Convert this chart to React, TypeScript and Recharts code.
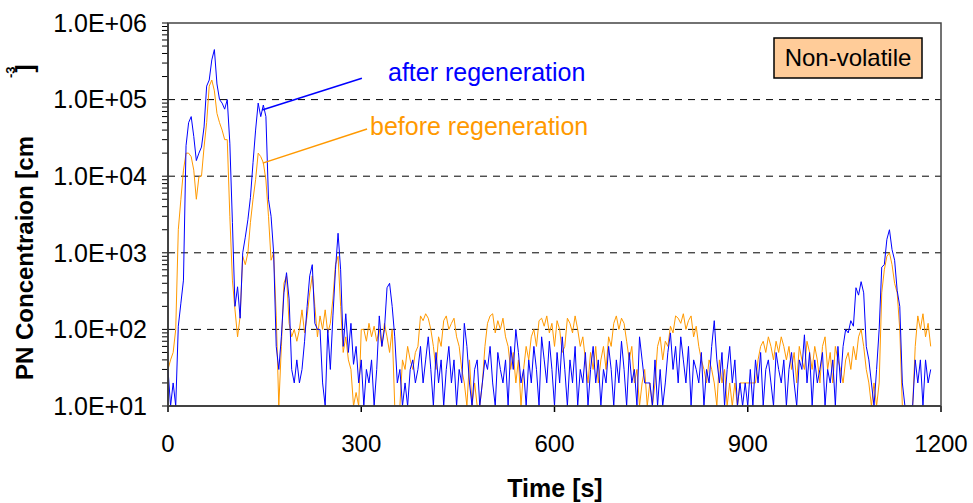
import React from 'react';
import { LineChart, Line, XAxis, YAxis, ReferenceLine } from 'recharts';

// particle number, sampled every 4 s (cm^-3); values below 10 sit on the floor
const STEP_S = 4;

const afterRegen = [
  30, 10, 20, 10, 110, 220, 440, 25000, 50000, 60000,
  33000, 16000, 20000, 24000, 44000, 150000, 180000, 330000, 450000, 160000,
  100000, 90000, 75000, 100000, 27000, 2500, 200, 360, 140, 1000,
  1600, 2700, 5300, 15000, 40000, 90000, 60000, 85000, 60000, 5000,
  3000, 1000, 60, 30, 80, 300, 550, 250, 30, 20,
  40, 20, 30, 70, 200, 500, 700, 120, 100, 100,
  20, 10, 100, 30, 150, 600, 1800, 600, 60, 160,
  50, 120, 35, 60, 20, 40, 10, 30, 20, 40,
  10, 30, 150, 60, 100, 350, 400, 200, 80, 20,
  30, 10, 20, 10, 30, 40, 20, 30, 60, 20,
  40,
  80, 30, 10, 50, 20, 40, 10, 30, 60, 20,
  40, 10, 30, 20, 120, 60, 20, 10, 30, 40,
  10, 20, 40, 30, 60, 20, 10, 50, 30, 20,
  40, 10, 60, 30, 100, 50, 20, 30, 10, 40,
  20, 60, 30, 10, 80, 40, 20, 70, 30, 10,
  50, 20, 80, 30, 10, 40, 20, 60, 10, 30,
  20, 50, 10, 30, 60, 20, 40, 10, 30, 20,
  60, 30, 10, 40, 20, 70, 30, 10, 50, 20,
  30, 10, 80, 40, 20, 20, 20, 10, 40, 10,
  30, 10, 20, 50, 90, 30, 60, 20, 80, 40,
  20, 60, 10, 40, 30, 20, 50, 10, 30, 20,
  60, 130, 40, 20, 50, 10, 30, 60, 20, 40,
  10, 20, 10, 20, 10, 30, 10, 40, 20, 50,
  10, 30, 40, 20, 10, 50, 30, 20, 40, 10,
  30, 50, 20, 10, 40, 30, 85, 20, 50, 10,
  40, 20, 30, 50, 10, 30, 20, 40, 10, 60,
  20, 60, 100, 90, 130, 110, 350, 280, 420, 300, 60, 40, 20, 10, 30,
  100, 650, 700, 1500, 2000, 1100, 800, 320, 200, 20,
  10, 10, 10, 10, 40, 20, 40, 10, 40, 20, 30,
];

const beforeRegen = [
  30, 40, 50, 100, 2000, 5000, 12000, 20000, 20000, 18000,
  12000, 5000, 9800, 10000, 24000, 50000, 150000, 180000, 130000, 66000,
  50000, 40000, 30000, 30000, 3000, 440, 180, 80, 150, 900,
  700, 1000, 2500, 5000, 9000, 20000, 18000, 15000, 8900, 3000,
  800, 1000, 150, 10, 60, 400, 500, 120, 80, 100,
  70, 100, 180, 90, 150, 300, 500, 200, 80, 150,
  100, 180, 90, 120, 250, 700, 900, 200, 50, 80,
  40, 30, 10, 15, 10, 100, 100, 70, 120, 80,
  110, 70, 100, 60, 120, 80, 50, 100, 10, 10,
  10, 40, 30, 60, 40, 30, 50, 60, 150, 130,
  160,
  140, 100, 60, 30, 80, 60, 130, 150, 100, 120,
  140, 80, 60, 30, 20, 10, 40, 10, 20, 10,
  10, 20, 60, 120, 150, 160, 90, 130, 100, 140,
  80, 60, 30, 50, 20, 40, 10, 30, 60, 40,
  80, 100, 60, 130, 140, 110, 150, 90, 120, 60,
  130, 100, 50, 60, 140, 120, 90, 150, 100, 60,
  80, 40, 20, 50, 30, 60, 20, 40, 60, 30,
  80, 60, 120, 150, 100, 140, 120, 70, 40, 60,
  20, 30, 10, 20, 30, 10, 20, 10, 20, 60,
  80, 40, 70, 60, 110, 90, 150, 140, 120, 160,
  100, 130, 150, 80, 110, 60, 40, 30, 20, 40,
  30, 20, 10, 40, 20, 30, 10, 20, 10, 20,
  10, 20, 20, 20, 20, 20, 20, 20, 40, 60,
  70, 50, 80, 60, 40, 70, 50, 80, 60, 40,
  60, 30, 50, 20, 60, 40, 30, 70, 50, 30,
  60, 40, 20, 60, 80, 30, 50, 20, 60, 40,
  30, 20, 40, 50, 30, 60, 40, 80, 100, 60, 30, 20, 10, 20, 10,
  20, 300, 600, 900, 1000, 700, 400, 300, 100, 10,
  10, 10, 10, 10, 60, 150, 100, 160, 80, 120, 60,
];

const timeTicks = [0, 300, 600, 900, 1200];
const decadeTicks = [10, 100, 1000, 10000, 100000, 1000000];
const decadeLabels = ['1.0E+01', '1.0E+02', '1.0E+03', '1.0E+04', '1.0E+05', '1.0E+06'];
const gridDecades = [100, 1000, 10000, 100000];

const minorTicks = decadeTicks
  .slice(0, -1)
  .flatMap((d) => [2, 3, 4, 5, 6, 7, 8, 9].map((m) => d * m));
const yTicks = [...decadeTicks, ...minorTicks].sort((a, b) => a - b);

const data = afterRegen.map((v, i) => ({
  t: i * STEP_S,
  after: v,
  before: beforeRegen[i],
}));

const FONT = '"Liberation Sans", Arial, sans-serif';
const BLUE = '#0000FF';
const ORANGE = '#FF9900';

// x is the label anchor (15px left of the tick end); the axis sits at x + 21
function YTick({ x, y, payload }: any) {
  const idx = decadeTicks.indexOf(payload.value);
  return (
    <g>
      <line x1={x + 15} x2={x + 21} y1={y} y2={y} stroke="#000" strokeWidth={1} />
      {idx >= 0 && (
        <text x={x} y={y} dy="0.355em" textAnchor="end" fontSize={25} fontFamily={FONT} fill="#000">
          {decadeLabels[idx]}
        </text>
      )}
    </g>
  );
}

function XTick({ x, y, payload }: any) {
  return (
    <g>
      <line x1={x} x2={x} y1={y - 29} y2={y - 23} stroke="#000" strokeWidth={1.5} />
      <text x={x} y={y} dy="0.71em" textAnchor="middle" fontSize={24} fontFamily={FONT} fill="#000">
        {payload.value}
      </text>
    </g>
  );
}

export default function App() {
  return (
    <div style={{ position: 'absolute', left: 0, top: 0, width: 973, height: 503, background: '#fff' }}>
      <LineChart
        width={973}
        height={503}
        data={data}
        margin={{ top: 23, right: 32, bottom: 67, left: 0 }}
      >
        <XAxis
          dataKey="t"
          type="number"
          domain={[0, 1200]}
          ticks={timeTicks}
          height={30}
          tickSize={6}
          tickMargin={23}
          axisLine={{ stroke: '#000', strokeWidth: 1.5 }}
          tickLine={false}
          tick={<XTick />}
        />
        <YAxis
          type="number"
          scale="log"
          domain={[10, 1000000]}
          allowDataOverflow
          ticks={yTicks}
          interval={0}
          width={168}
          tickSize={6}
          tickMargin={15}
          axisLine={{ stroke: '#000', strokeWidth: 1.5 }}
          tickLine={false}
          tick={<YTick />}
        />
        {gridDecades.map((v) => (
          <ReferenceLine key={v} y={v} stroke="#000" strokeWidth={1} strokeDasharray="7 6" />
        ))}
        <Line
          type="linear"
          dataKey="before"
          stroke={ORANGE}
          strokeWidth={1}
          dot={false}
          isAnimationActive={false}
        />
        <Line
          type="linear"
          dataKey="after"
          stroke={BLUE}
          strokeWidth={1}
          dot={false}
          isAnimationActive={false}
        />
        <ReferenceLine
          segment={[{ x: 146, y: 73000 }, { x: 301, y: 190000 }]}
          stroke={BLUE}
          strokeWidth={1.5}
        />
        <ReferenceLine
          segment={[{ x: 147, y: 14800 }, { x: 309, y: 41300 }]}
          stroke={ORANGE}
          strokeWidth={1.5}
        />
      </LineChart>
      <svg
        width={973}
        height={503}
        style={{ position: 'absolute', left: 0, top: 0, pointerEvents: 'none' }}
        fontFamily={FONT}
      >
        <rect x={168} y={23} width={773} height={383} fill="none" stroke="#444" strokeWidth={1.5} />
        <text x={388} y={81} fontSize={25} fill={BLUE}>after regeneration</text>
        <text x={370} y={135} fontSize={25} fill={ORANGE}>before regeneration</text>
        <rect x={774} y={38} width={148} height={40} fill="#FFCC99" stroke="#000" strokeWidth={1.5} />
        <text x={848} y={66} fontSize={24} textAnchor="middle" fill="#000">Non-volatile</text>
        <text x={555} y={497} fontSize={25} fontWeight="bold" textAnchor="middle" fill="#000">
          Time [s]
        </text>
        <text transform="translate(33,380) rotate(-90)" fontSize={24} fontWeight="bold" fill="#000">
          PN Concentraion [cm
          <tspan dx={58} dy={-18} fontSize={13}>-3</tspan>
          <tspan dx={-6} dy={18}>]</tspan>
        </text>
      </svg>
    </div>
  );
}
